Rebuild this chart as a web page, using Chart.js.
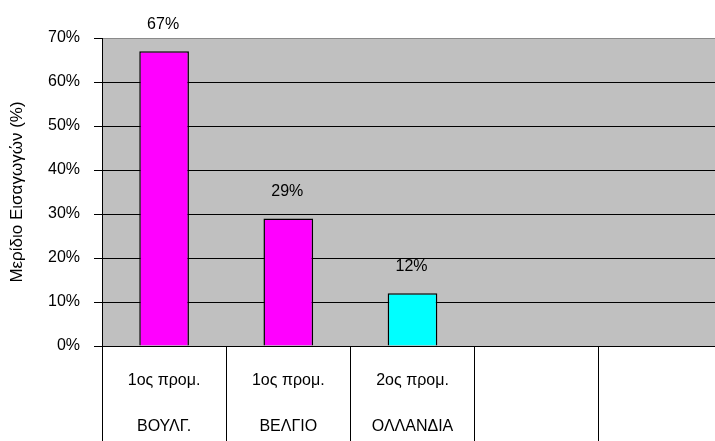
<!DOCTYPE html>
<html>
<head>
<meta charset="utf-8">
<script src="https://cdn.jsdelivr.net/npm/chart.js@4.4.1/dist/chart.umd.min.js"></script>
<style>
  html, body { margin: 0; padding: 0; background: #fff; overflow: hidden; }
  #wrap { width: 715px; height: 441px; overflow: hidden; position: relative; }
  canvas { display: block; }
</style>
</head>
<body>
<div id="wrap"><canvas id="c" width="723" height="441"></canvas></div>
<script>
const labelLine1 = ['1ος προμ.', '1ος προμ.', '2ος προμ.', '', ''];
const labelLine2 = ['ΒΟΥΛΓ.', 'ΒΕΛΓΙΟ', 'ΟΛΛΑΝΔΙΑ', '', ''];
const shareValues = [67, 29, 12, null, null];
const barColors = ['#FF00FF', '#FF00FF', '#00FFFF', '#00FFFF', '#00FFFF'];
const yTicks = [0, 10, 20, 30, 40, 50, 60, 70];
const yTitle = 'Μερίδιο Εισαγωγών (%)';

const numFont = '"Liberation Sans", Arial, sans-serif';
const txtFont = '"Liberation Sans", Arial, sans-serif';

const plotBg = {
  id: 'plotBg',
  beforeDraw(chart) {
    const { ctx, chartArea: a } = chart;
    ctx.save();
    ctx.fillStyle = '#C0C0C0';
    ctx.fillRect(a.left, a.top, a.right - a.left, a.bottom - a.top);
    ctx.restore();
  }
};

const valueLabels = {
  id: 'valueLabels',
  afterDatasetsDraw(chart) {
    const { ctx } = chart;
    const meta = chart.getDatasetMeta(0);
    ctx.save();
    ctx.font = '16px ' + numFont;
    ctx.fillStyle = '#000';
    ctx.textAlign = 'center';
    ctx.textBaseline = 'middle';
    meta.data.forEach((bar, i) => {
      const v = shareValues[i];
      if (v === null || v === undefined) return;
      ctx.fillText(v + '%', bar.x - 1, bar.y - 27);
    });
    ctx.restore();
  }
};

new Chart(document.getElementById('c'), {
  type: 'bar',
  data: {
    labels: labelLine1.map((l, i) => [l, labelLine2[i]]),
    datasets: [{
      data: shareValues,
      backgroundColor: barColors,
      borderColor: '#000',
      borderWidth: 1.5,
      barPercentage: 0.4,
      categoryPercentage: 1.0
    }]
  },
  options: {
    responsive: false,
    devicePixelRatio: 1,
    animation: false,
    layout: { padding: { top: 38, left: 0, right: 0, bottom: 0 } },
    plugins: { legend: { display: false }, tooltip: { enabled: false } },
    scales: {
      x: {
        offset: true,
        grid: {
          display: true,
          drawOnChartArea: false,
          drawTicks: true,
          tickLength: 95,
          color: '#000',
          lineWidth: 1
        },
        border: { display: true, color: '#000', width: 1 },
        ticks: {
          autoSkip: false,
          maxRotation: 0,
          minRotation: 0,
          padding: -83,
          color: '#000',
          font: { family: txtFont, size: 16, lineHeight: 46 / 16 }
        },
        afterFit(scale) { scale.height = 95; }
      },
      y: {
        min: 0,
        max: 70,
        afterBuildTicks(scale) { scale.ticks = yTicks.map(v => ({ value: v })); },
        grid: {
          color: ctx => (ctx.tick && ctx.tick.value === 70) ? '#8a8a8a' : '#000',
          lineWidth: 1,
          drawTicks: true,
          tickLength: 8,
          tickColor: '#000'
        },
        border: { display: true, color: '#000', width: 1 },
        ticks: {
          padding: 14,
          color: '#000',
          font: { family: numFont, size: 16 },
          callback: v => v + '%'
        },
        title: {
          display: true,
          text: yTitle,
          color: '#000',
          font: { family: txtFont, size: 17 },
          padding: { top: 7, bottom: 0 }
        },
        afterFit(scale) { scale.width = 102; }
      }
    }
  },
  plugins: [plotBg, valueLabels]
});
</script>
</body>
</html>
